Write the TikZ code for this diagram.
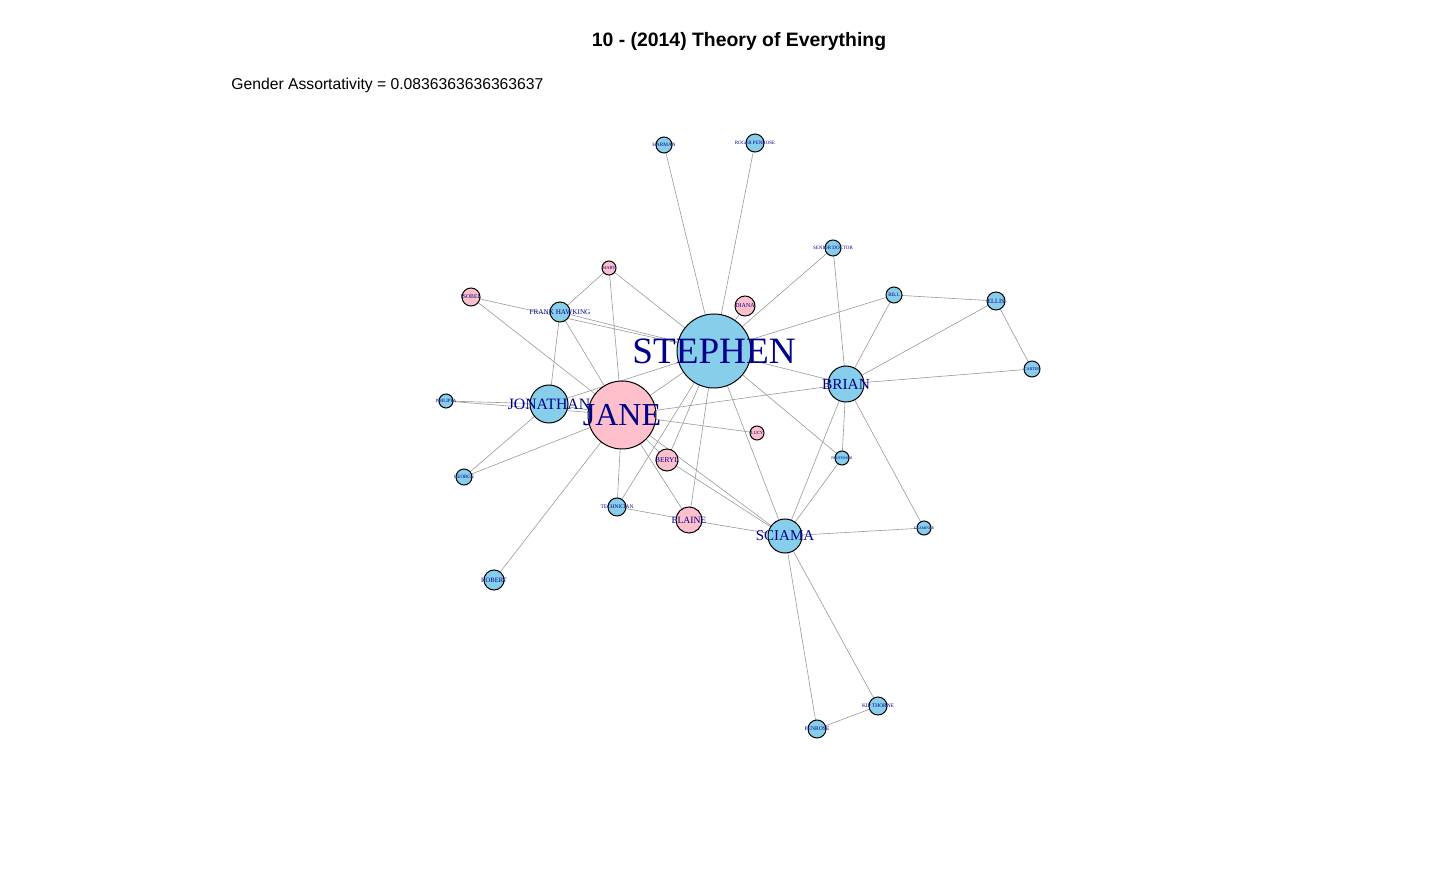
\documentclass[tikz,border=0pt]{standalone}
\usepackage{fontspec}
\setmainfont{Liberation Serif}
\setsansfont{Liberation Sans}
\usetikzlibrary{backgrounds}

\definecolor{skyblue}{RGB}{135,206,235}
\definecolor{pinkish}{RGB}{255,192,203}
\definecolor{labelblue}{RGB}{0,0,139}

\tikzset{
    person/.style={circle, draw=black, line width=0.5pt, inner sep=0pt},
    male/.style={person, fill=skyblue},
    female/.style={person, fill=pinkish},
    tie/.style={gray!80, line width=0.3pt},
}

% name, fontsize label
\newcommand{\who}[2]{{\fontsize{#1}{#1}\selectfont\color{labelblue}#2}}

\begin{document}
\begin{tikzpicture}[x=0.5pt, y=-0.5pt]
            \useasboundingbox (0,0) rectangle (1440,892);

            \node[font=\sffamily\bfseries\fontsize{9.7}{11}\selectfont] (title) at (739,42) {10 - (2014) Theory of Everything};
            \node[font=\sffamily\fontsize{7.85}{9}\selectfont, anchor=west, inner sep=0pt] (assort) at (231,85) {Gender Assortativity = 0.0836363636363637};

            % people
            \node[male, minimum size=8pt, label={center:\who{2.6}{HARMAN}}] (harman) at (664,145) {};
            \node[male, minimum size=9pt, label={center:\who{2.5}{ROGER PENROSE}}] (roger) at (755,143) {};
            \node[male, minimum size=8pt, label={center:\who{2.5}{SENIOR DOCTOR}}] (doctor) at (833,248) {};
            \node[female, minimum size=7pt, label={center:\who{2.3}{MARY}}] (mary) at (609,268) {};
            \node[female, minimum size=9pt, label={center:\who{2.9}{ISOBEL}}] (isobel) at (471,297) {};
            \node[male, minimum size=10pt, label={center:\who{3.6}{FRANK HAWKING}}] (frank) at (560,312) {};
            \node[female, minimum size=10pt, label={center:\who{3}{DIANA}}] (diana) at (745,306) {};
            \node[male, minimum size=8pt, label={center:\who{2.5}{BILL}}] (bill) at (894,295) {};
            \node[male, minimum size=9pt, label={center:\who{3.2}{ELLIS}}] (ellis) at (996,301) {};
            \node[male, minimum size=8pt, label={center:\who{2.1}{CARTER}}] (carter) at (1032,369) {};
            \node[male, minimum size=7pt, label={center:\who{2.4}{PHILIPPA}}] (philippa) at (446,401) {};
            \node[male, minimum size=8pt, label={center:\who{2.5}{GEORGE}}] (george) at (464,477) {};
            \node[female, minimum size=7pt, label={center:\who{2.3}{LUCY}}] (lucy) at (757,433) {};
            \node[male, minimum size=7pt, label={center:\who{1.9}{PROFESSOR}}] (professor) at (842,458) {};
            \node[male, minimum size=7pt, label={center:\who{1.9}{EXAMINER}}] (examiner) at (924,528) {};
            \node[male, minimum size=9pt, label={center:\who{2.7}{TECHNICIAN}}] (tech) at (617,507) {};
            \node[male, minimum size=10pt, label={center:\who{3.3}{ROBERT}}] (robert) at (494,580) {};
            \node[male, minimum size=9pt, label={center:\who{2.7}{KIP THORNE}}] (kip) at (878,706) {};
            \node[male, minimum size=9pt, label={center:\who{2.8}{PENROSE}}] (penrose) at (817,729) {};
            \node[female, minimum size=11pt, label={center:\who{3.7}{BERYL}}] (beryl) at (667,460) {};
            \node[female, minimum size=13pt, label={center:\who{4.8}{ELAINE}}] (elaine) at (689,520) {};
            \node[male, minimum size=17pt, label={center:\who{7.5}{SCIAMA}}] (sciama) at (785,536) {};
            \node[male, minimum size=18pt, label={center:\who{7.7}{BRIAN}}] (brian) at (846,384) {};
            \node[male, minimum size=19pt, label={center:\who{7.9}{JONATHAN}}] (jonathan) at (549,404) {};
            \node[female, minimum size=34pt, label={center:\who{16}{JANE}}] (jane) at (622,415) {};
            \node[male, minimum size=37pt, label={center:\who{18.6}{STEPHEN}}] (stephen) at (714,351) {};

            % ties
            \begin{scope}[on background layer]
            \foreach \a/\b in {harman/stephen, roger/stephen, doctor/stephen, doctor/brian,
                    mary/frank, mary/stephen, mary/jane, isobel/stephen, isobel/jane,
                    frank/stephen, frank/jonathan, frank/jane, diana/stephen,
                    stephen/brian, stephen/bill, bill/ellis, bill/brian, ellis/brian,
                    ellis/carter, carter/brian, stephen/jane, stephen/jonathan,
                    stephen/sciama, stephen/elaine, stephen/tech, stephen/beryl,
                    stephen/professor, jane/brian, jane/lucy, jonathan/jane,
                    philippa/jonathan, philippa/jane, george/jonathan, george/jane,
                    jane/robert, jane/tech, jane/beryl, jane/elaine, jane/sciama,
                    beryl/sciama, tech/elaine, elaine/sciama, sciama/brian,
                    sciama/professor, brian/professor, brian/examiner, sciama/examiner,
                    sciama/penrose, sciama/kip, penrose/kip}
                \draw[tie] (\a.center) -- (\b.center);
            \end{scope}
        \end{tikzpicture}
\end{document}
